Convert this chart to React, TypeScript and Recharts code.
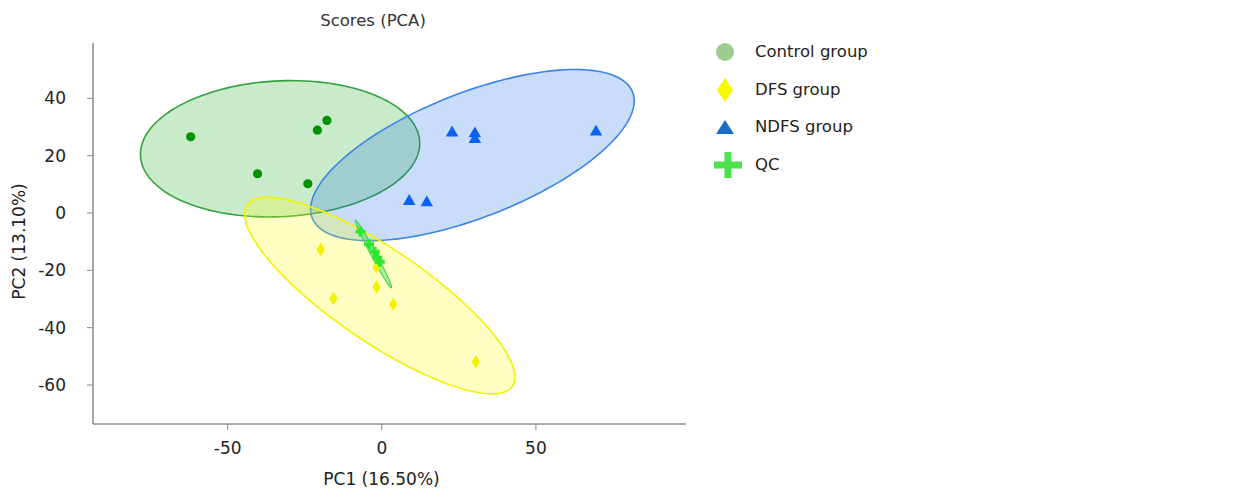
import React from 'react';
import { ScatterChart, Scatter, XAxis, YAxis } from 'recharts';

// ---- data (PC1, PC2) ----
const controlGroup = [
  { x: -62.0, y: 26.6 },
  { x: -17.8, y: 32.3 },
  { x: -20.9, y: 28.9 },
  { x: -40.3, y: 13.7 },
  { x: -24.0, y: 10.2 },
];
const dfsGroup = [
  { x: -19.8, y: -12.7 },
  { x: -1.7, y: -18.8 },
  { x: -1.7, y: -25.8 },
  { x: -15.7, y: -29.8 },
  { x: 3.7, y: -31.8 },
  { x: 30.5, y: -51.9 },
];
const ndfsGroup = [
  { x: 22.8, y: 28.4 },
  { x: 30.2, y: 28.1 },
  { x: 30.2, y: 26.1 },
  { x: 69.5, y: 28.7 },
  { x: 8.9, y: 4.5 },
  { x: 14.6, y: 4.0 },
];
const qcGroup = [
  { x: -6.9, y: -6.5 },
  { x: -4.1, y: -10.9 },
  { x: -2.3, y: -13.5 },
  { x: -1.5, y: -15.6 },
  { x: -0.65, y: -17.0 },
];

// confidence ellipses: [center, end of semi-diameter, end of conjugate semi-diameter]
const controlEllipse = [{ x: -33.0, y: 22.4 }, { x: 12.3, y: 24.3 }, { x: -33.0, y: -1.3 }];
const ndfsEllipse = [{ x: 29.4, y: 20.2 }, { x: 81.9, y: 39.1 }, { x: 29.4, y: -2.9 }];
const dfsEllipse = [{ x: -0.65, y: -28.8 }, { x: 43.2, y: -57.2 }, { x: -0.65, y: -48.0 }];
const qcEllipse = [{ x: -2.7, y: -14.3 }, { x: 3.15, y: -26.1 }, { x: -3.45, y: -14.75 }];

const xTicks = [-50, 0, 50];
const yTicks = [-60, -40, -20, 0, 20, 40];
const xDomain: [number, number] = [-93.7, 98.7];
const yDomain: [number, number] = [-73.6, 59.3];

const legendItems = [
  { label: 'Control group', kind: 'circle' },
  { label: 'DFS group', kind: 'diamond' },
  { label: 'NDFS group', kind: 'triangle' },
  { label: 'QC', kind: 'cross' },
];

const FONT = '"DejaVu Sans", Verdana, sans-serif';

const makeEllipseLine = (fill: string, stroke: string, sw: number) => (props: any) => {
  const pts = props.points;
  if (!pts || pts.length < 3) return <g />;
  const [c, u, v] = pts;
  const ux = u.x - c.x, uy = u.y - c.y, vx = v.x - c.x, vy = v.y - c.y;
  let d = '';
  const n = 144;
  for (let i = 0; i <= n; i++) {
    const t = (i / n) * 2 * Math.PI;
    const px = c.x + ux * Math.cos(t) + vx * Math.sin(t);
    const py = c.y + uy * Math.cos(t) + vy * Math.sin(t);
    d += (i === 0 ? 'M' : 'L') + px.toFixed(2) + ',' + py.toFixed(2);
  }
  return <path d={d + 'Z'} fill={fill} stroke={stroke} strokeWidth={sw} />;
};

const NoShape = () => <g />;

const CircleShape = (p: any) => <circle cx={p.cx} cy={p.cy} r={4.6} fill="#009200" />;
const DiamondShape = (p: any) => {
  const { cx, cy } = p;
  return (
    <polygon
      points={`${cx},${cy - 6.8} ${cx + 4.2},${cy} ${cx},${cy + 6.8} ${cx - 4.2},${cy}`}
      fill="#f2f200"
    />
  );
};
const TriangleShape = (p: any) => {
  const { cx, cy } = p;
  return (
    <polygon
      points={`${cx},${cy - 6} ${cx + 6.3},${cy + 4.8} ${cx - 6.3},${cy + 4.8}`}
      fill="#0a62f0"
    />
  );
};
const CrossShape = (p: any) => {
  const { cx, cy } = p;
  const a = 5, w = 1.9;
  const d = `M${cx - w},${cy - a} L${cx + w},${cy - a} L${cx + w},${cy - w} L${cx + a},${cy - w} L${cx + a},${cy + w} L${cx + w},${cy + w} L${cx + w},${cy + a} L${cx - w},${cy + a} L${cx - w},${cy + w} L${cx - a},${cy + w} L${cx - a},${cy - w} L${cx - w},${cy - w} Z`;
  return <path d={d} fill="#2ee62e" />;
};

const LegendSymbol = ({ kind }: { kind: string }) => {
  if (kind === 'circle') return <circle cx={12} cy={12} r={9} fill="#9ccd8e" />;
  if (kind === 'diamond') return <polygon points="12,0 20,12 12,24 4,12" fill="#f7f700" />;
  if (kind === 'triangle') return <polygon points="12,5 21,19 3,19" fill="#1a6dc2" />;
  return <path d="M8.5,-1 L15.5,-1 L15.5,8.5 L26,8.5 L26,15.5 L15.5,15.5 L15.5,25 L8.5,25 L8.5,15.5 L-2,15.5 L-2,8.5 L8.5,8.5 Z" fill="#4ce24c" transform="translate(3,0)" />;
};

const YLabel = (props: any) => {
  const vb = props.viewBox || {};
  const x = (vb.x || 0) + 19;
  const y = (vb.y || 0) + (vb.height || 0) / 2 + 8;
  return (
    <text x={x} y={y} transform={`rotate(-90 ${x} ${y})`} textAnchor="middle" dominantBaseline="central" fontSize={17} fill="#222" fontFamily={FONT}>
      PC2 (13.10%)
    </text>
  );
};
const XLabel = (props: any) => {
  const vb = props.viewBox || {};
  const x = (vb.x || 0) + (vb.width || 0) / 2 - 8;
  const y = 485;
  return (
    <text x={x} y={y} textAnchor="middle" fontSize={17} fill="#222" fontFamily={FONT}>
      PC1 (16.50%)
    </text>
  );
};

export default function App() {
  return (
    <div style={{ position: 'absolute', left: 0, top: 0, width: 1247, height: 492, fontFamily: FONT, background: '#fff' }}>
      <ScatterChart width={1247} height={492} margin={{ top: 43, right: 561, bottom: 0, left: 0 }}>
        <text x={373} y={26} textAnchor="middle" fontSize={16.5} fill="#333" fontFamily={FONT}>
          Scores (PCA)
        </text>
        <XAxis
          type="number"
          dataKey="x"
          domain={xDomain}
          ticks={xTicks}
          allowDataOverflow
          height={68}
          tickSize={6}
          tickMargin={12}
          axisLine={{ stroke: '#8a8a8a', strokeWidth: 1.5 }}
          tickLine={{ stroke: '#8a8a8a' }}
          tick={{ fill: '#222', fontSize: 17, fontFamily: FONT }}
          label={<XLabel />}
        />
        <YAxis
          type="number"
          dataKey="y"
          domain={yDomain}
          ticks={yTicks}
          allowDataOverflow
          width={93}
          tickSize={6}
          tickMargin={21}
          axisLine={{ stroke: '#8a8a8a', strokeWidth: 1.5 }}
          tickLine={{ stroke: '#8a8a8a' }}
          tick={{ fill: '#222', fontSize: 17, fontFamily: FONT }}
          label={<YLabel />}
        />
        <Scatter data={controlEllipse} isAnimationActive={false} shape={NoShape} line={makeEllipseLine('rgba(0,160,0,0.21)', '#36a040', 1.6)} legendType="none" />
        <Scatter data={ndfsEllipse} isAnimationActive={false} shape={NoShape} line={makeEllipseLine('rgba(20,110,235,0.23)', '#3a84e8', 1.6)} legendType="none" />
        <Scatter data={dfsEllipse} isAnimationActive={false} shape={NoShape} line={makeEllipseLine('rgba(255,255,0,0.23)', '#f2f200', 1.6)} legendType="none" />
        <Scatter data={qcEllipse} isAnimationActive={false} shape={NoShape} line={makeEllipseLine('rgba(40,220,60,0.4)', '#3fcf60', 1.1)} legendType="none" />
        <Scatter data={controlGroup} isAnimationActive={false} shape={CircleShape} />
        <Scatter data={ndfsGroup} isAnimationActive={false} shape={TriangleShape} />
        <Scatter data={dfsGroup} isAnimationActive={false} shape={DiamondShape} />
        <Scatter data={qcGroup} isAnimationActive={false} shape={CrossShape} />
      </ScatterChart>
      <div style={{ position: 'absolute', left: 713, top: 33, fontFamily: FONT, fontSize: 16.5, color: '#222' }}>
        {legendItems.map((it) => (
          <div key={it.label} style={{ display: 'flex', alignItems: 'center', height: 37.7 }}>
            <svg width={30} height={26} viewBox="0 -1 30 26" style={{ overflow: 'visible' }}>
              <LegendSymbol kind={it.kind} />
            </svg>
            <span style={{ marginLeft: 12, lineHeight: '20px' }}>{it.label}</span>
          </div>
        ))}
      </div>
    </div>
  );
}
